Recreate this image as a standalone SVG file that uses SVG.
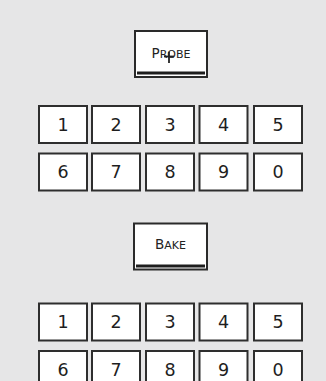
<svg xmlns="http://www.w3.org/2000/svg" width="326" height="381" viewBox="0 0 326 381">
<style>
.bg{fill:#e6e6e7}
.key rect{fill:#ffffff;stroke:#2e2e2e;stroke-width:2}
.key text{font-family:"DejaVu Sans","Noto Sans",sans-serif;font-size:17.5px;fill:#1e1e1e;text-anchor:middle}
.btn rect.f{fill:#ffffff;stroke:#2a2a2a;stroke-width:2}
.btn rect.bar{fill:#1e1e1e}
.btn text{font-family:"DejaVu Sans","Noto Sans",sans-serif;fill:#222;text-anchor:middle}
.big{font-size:13.5px}
.sm{font-size:11px}
</style>
<rect class="bg" x="0" y="0" width="326" height="381"/>
<g id="probe" class="btn">
<rect class="f" x="135" y="31" width="72" height="46"/>
<rect class="bar" x="137" y="71.5" width="68" height="3"/>
<text x="171" y="58"><tspan class="big">P</tspan><tspan class="sm">ROBE</tspan></text>
<line x1="164" y1="56.5" x2="174" y2="56.5" stroke="#222" stroke-width="1.8"/>
<line x1="169" y1="52" x2="169" y2="63" stroke="#222" stroke-width="1.8"/>
</g>
<g id="key-t1" class="key"><rect x="39" y="106" width="48" height="37"/><text x="63" y="130.5">1</text></g>
<g id="key-t2" class="key"><rect x="92" y="106" width="48" height="37"/><text x="116" y="130.5">2</text></g>
<g id="key-t3" class="key"><rect x="146" y="106" width="48" height="37"/><text x="170" y="130.5">3</text></g>
<g id="key-t4" class="key"><rect x="199.5" y="106" width="48" height="37"/><text x="223.5" y="130.5">4</text></g>
<g id="key-t5" class="key"><rect x="254" y="106" width="48" height="37"/><text x="278" y="130.5">5</text></g>
<g id="key-t6" class="key"><rect x="39" y="153.5" width="48" height="37"/><text x="63" y="178">6</text></g>
<g id="key-t7" class="key"><rect x="92" y="153.5" width="48" height="37"/><text x="116" y="178">7</text></g>
<g id="key-t8" class="key"><rect x="146" y="153.5" width="48" height="37"/><text x="170" y="178">8</text></g>
<g id="key-t9" class="key"><rect x="199.5" y="153.5" width="48" height="37"/><text x="223.5" y="178">9</text></g>
<g id="key-t0" class="key"><rect x="254" y="153.5" width="48" height="37"/><text x="278" y="178">0</text></g>
<g id="bake" class="btn">
<rect class="f" x="134" y="223.5" width="73" height="46"/>
<rect class="bar" x="136" y="264.5" width="69" height="3"/>
<text x="170.5" y="249"><tspan class="big">B</tspan><tspan class="sm">AKE</tspan></text>
</g>
<g id="key-b1" class="key"><rect x="39" y="303.5" width="48" height="37"/><text x="63" y="328">1</text></g>
<g id="key-b2" class="key"><rect x="92" y="303.5" width="48" height="37"/><text x="116" y="328">2</text></g>
<g id="key-b3" class="key"><rect x="146" y="303.5" width="48" height="37"/><text x="170" y="328">3</text></g>
<g id="key-b4" class="key"><rect x="199.5" y="303.5" width="48" height="37"/><text x="223.5" y="328">4</text></g>
<g id="key-b5" class="key"><rect x="254" y="303.5" width="48" height="37"/><text x="278" y="328">5</text></g>
<g id="key-b6" class="key"><rect x="39" y="351" width="48" height="37"/><text x="63" y="375.5">6</text></g>
<g id="key-b7" class="key"><rect x="92" y="351" width="48" height="37"/><text x="116" y="375.5">7</text></g>
<g id="key-b8" class="key"><rect x="146" y="351" width="48" height="37"/><text x="170" y="375.5">8</text></g>
<g id="key-b9" class="key"><rect x="199.5" y="351" width="48" height="37"/><text x="223.5" y="375.5">9</text></g>
<g id="key-b0" class="key"><rect x="254" y="351" width="48" height="37"/><text x="278" y="375.5">0</text></g>
<g id="connectors"/>
</svg>
